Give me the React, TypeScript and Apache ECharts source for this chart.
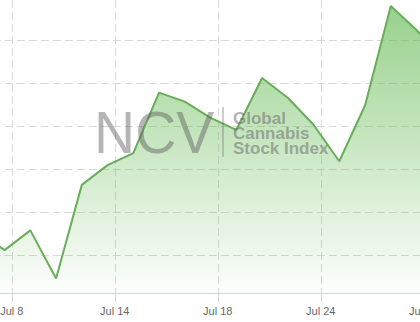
import React, { useEffect, useRef } from "react";
import * as echarts from "echarts";

// Trading days (category positions), index 0 = Jul 7
const dates = [
  "Jul 7", "Jul 8", "Jul 9", "Jul 10", "Jul 11",
  "Jul 14", "Jul 15", "Jul 16", "Jul 17", "Jul 18",
  "Jul 21", "Jul 22", "Jul 23", "Jul 24", "Jul 25",
  "Jul 28", "Jul 29", "Jul 30", "Jul 31",
];
const indexValues = [
  65.3, 61.2, 65.8, 54.6, 76.4,
  81.0, 83.8, 97.9, 95.8, 92.0,
  89.2, 101.3, 96.7, 90.4, 81.9,
  94.9, 118.1, 112.5, 106.0,
];
const watermarkBig = "NCV";
const watermarkSmall = ["Global", "Cannabis", "Stock Index"];

// layout (visible window is a crop of a wider chart)
const OFFSET_X = 120; // chart div shifted left by this
const CHART_W = 660;
const CHART_H = 322;
const PX_PER_DAY = 25.87;
const X_MIN = -2.72; // tick base: ticks every 4 trading days
const GRID_LEFT = 28.8;
const X_MAX = X_MIN + (CHART_W - GRID_LEFT) / PX_PER_DAY;
const LABEL_SHIFT = 0.28;
const Y_MIN = 51.2;
const Y_MAX = 119.48;

export default function App() {
  const ref = useRef<HTMLDivElement>(null);
  useEffect(() => {
    if (!ref.current) return;
    const chart = echarts.init(ref.current, undefined, { renderer: "svg" });
    const px = (x: number) => x + OFFSET_X;
    chart.setOption({
      animation: false,
      backgroundColor: "#ffffff",
      grid: { left: GRID_LEFT, right: 0, top: 0, bottom: 29, containLabel: false },
      xAxis: {
        type: "value",
        min: X_MIN,
        max: X_MAX,
        interval: 4,
        axisLine: { show: true, lineStyle: { color: "#ccd6eb", width: 1 } },
        axisTick: { show: true, length: 9, lineStyle: { color: "#d4d4d4" } },
        axisLabel: {
          margin: 12,
          color: "#666666",
          fontSize: 11,
          fontFamily: "Liberation Sans, Arial, sans-serif",
          formatter: (v: number) => {
            const i = Math.round(v - LABEL_SHIFT);
            return dates[i] ?? "";
          },
        },
        splitLine: {
          show: true,
          lineStyle: { color: "#d8d8d8", type: [8, 4], width: 1 },
        },
      },
      yAxis: {
        type: "value",
        min: Y_MIN,
        max: Y_MAX,
        axisLine: { show: false },
        axisTick: { show: false },
        axisLabel: { show: false },
        splitLine: {
          show: true,
          showMinLine: false,
          showMaxLine: false,
          lineStyle: { color: "#d8d8d8", type: [8, 4], width: 1 },
        },
      },
      series: [
        {
          type: "line",
          data: indexValues.map((v, i) => [i, v]),
          symbol: "none",
          lineStyle: { color: "#69ad5b", width: 2 },
          areaStyle: {
            color: new echarts.graphic.LinearGradient(0, 0, 0, 1, [
              { offset: 0, color: "rgba(100,186,82,0.95)" },
              { offset: 1, color: "rgba(100,186,82,0.02)" },
            ]),
          },
        },
      ],
      graphic: [
        {
          type: "text",
          z: 100,
          x: px(94),
          y: 132,
          scaleX: 0.95,
          style: {
            text: watermarkBig,
            fontFamily: "Liberation Sans, Arial, sans-serif",
            fontSize: 60,
            fill: "rgba(90,90,90,0.45)",
            align: "left",
            verticalAlign: "middle",
          },
        },
        {
          type: "line",
          z: 100,
          shape: { x1: px(223), y1: 107, x2: px(223), y2: 157 },
          style: { stroke: "rgba(110,110,110,0.45)", lineWidth: 1.5 },
        },
        ...watermarkSmall.map((t, i) => ({
          type: "text",
          z: 100,
          x: px(233),
          y: 118 + i * 15,
          style: {
            text: t,
            fontFamily: "Liberation Sans, Arial, sans-serif",
            fontWeight: "bold",
            fontSize: 17,
            lineHeight: 15,
            fill: "rgba(100,100,100,0.5)",
            align: "left",
            verticalAlign: "middle",
          },
        })),
      ],
    });
    return () => chart.dispose();
  }, []);
  return (
    <div
      style={{
        position: "fixed",
        left: 0,
        top: 0,
        width: 420,
        height: 322,
        overflow: "hidden",
        background: "#fff",
      }}
    >
      <div
        ref={ref}
        style={{ position: "absolute", left: -OFFSET_X, top: 0, width: CHART_W, height: CHART_H }}
      />
    </div>
  );
}
